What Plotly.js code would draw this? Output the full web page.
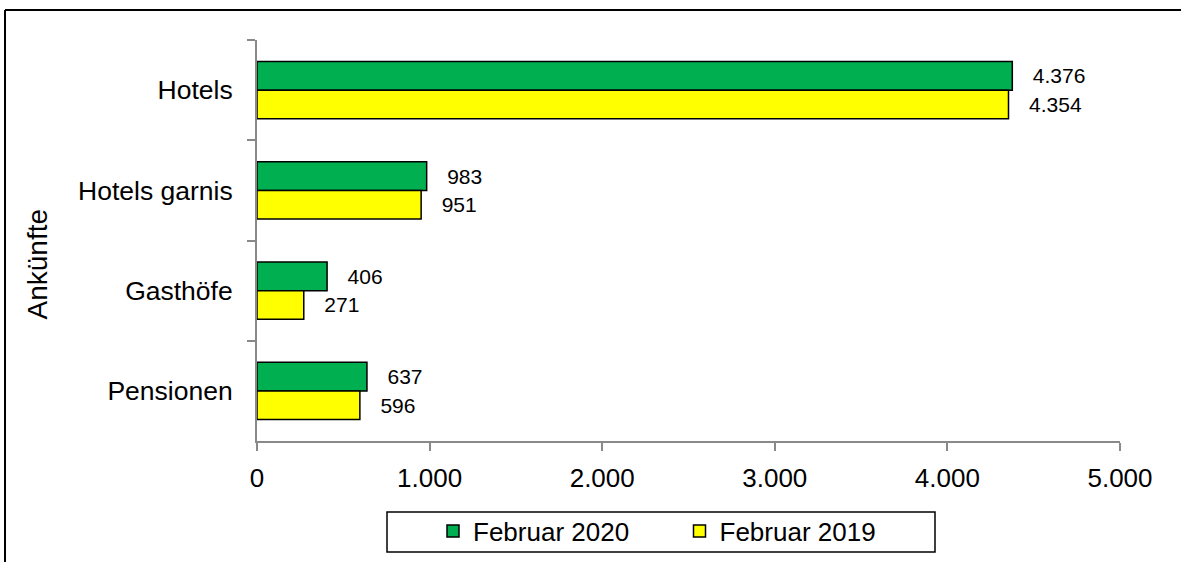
<!DOCTYPE html>
<html>
<head>
<meta charset="utf-8">
<script src="https://cdn.plot.ly/plotly-3.0.1.min.js"></script>
<style>
  html, body { margin: 0; padding: 0; background: #ffffff; }
  #chart { width: 1181px; height: 562px; }
</style>
</head>
<body>
<div id="chart"></div>
<script>
// Data
const categories = ['Hotels', 'Hotels garnis', 'Gasthöfe', 'Pensionen'];
const seriesNames = ['Februar 2020', 'Februar 2019'];
const feb2020 = [4376, 983, 406, 637];
const feb2019 = [4354, 951, 271, 596];
const xTickVals = [0, 1000, 2000, 3000, 4000, 5000];
const yAxisTitle = 'Ankünfte';

const FONT = 'Liberation Sans, Arial, sans-serif';
const W = 1181, H = 562;
const L = 257, R = 1120, T = 40, B = 441;
const pw = R - L, ph = B - T;
const px = v => (v - L) / pw;
const py = v => (B - v) / ph;

function barTrace(name, values, color) {
  return {
    type: 'bar',
    orientation: 'h',
    name: name,
    y: categories,
    x: values,
    marker: { color: color, line: { color: '#000000', width: 1.5 } },
    texttemplate: '\u00a0\u00a0\u00a0%{x:,.0f}',
    textposition: 'outside',
    constraintext: 'none',
    cliponaxis: false,
    textfont: { family: FONT, size: 21, color: '#000000' },
    hoverinfo: 'skip'
  };
}

const data = [
  barTrace(seriesNames[0], feb2020, '#00B050'),
  barTrace(seriesNames[1], feb2019, '#FFFF00')
];

const layout = {
  width: W, height: H,
  margin: { l: L, r: W - R, t: T, b: H - B, pad: 0, autoexpand: false },
  paper_bgcolor: '#ffffff',
  plot_bgcolor: '#ffffff',
  separators: ',.',
  barmode: 'group',
  bargap: 0.43,
  bargroupgap: 0,
  font: { family: FONT, color: '#000000' },
  showlegend: true,
  legend: {
    orientation: 'h',
    xref: 'container', yref: 'container',
    x: 433 / W, xanchor: 'left',
    y: 1 - 531 / H, yanchor: 'middle',
    font: { family: FONT, size: 26, color: '#000000' },
    bgcolor: 'rgba(0,0,0,0)',
    borderwidth: 0,
    entrywidth: 201.5,
    entrywidthmode: 'pixels'
  },
  xaxis: {
    range: [0, 5000],
    tickvals: xTickVals,
    tickformat: ',.0f',
    showgrid: false,
    zeroline: false,
    showline: true,
    linecolor: '#898989',
    linewidth: 2,
    ticks: 'outside',
    ticklen: 8,
    tickwidth: 2,
    tickcolor: '#898989',
    ticklabelstandoff: 5,
    tickfont: { family: FONT, size: 26, color: '#000000' },
    fixedrange: true
  },
  yaxis: {
    type: 'category',
    categoryorder: 'array',
    categoryarray: categories,
    autorange: 'reversed',
    showgrid: false,
    zeroline: false,
    showline: true,
    linecolor: '#898989',
    linewidth: 2,
    ticks: 'outside',
    tickson: 'boundaries',
    ticklen: 8,
    tickwidth: 2,
    tickcolor: '#898989',
    ticklabelstandoff: 17,
    tickfont: { family: FONT, size: 26.5, color: '#000000' },
    fixedrange: true
  },
  annotations: [{
    text: yAxisTitle,
    xref: 'paper', yref: 'paper',
    x: px(37), y: py(264.5),
    xanchor: 'center', yanchor: 'middle',
    textangle: -90,
    showarrow: false,
    font: { family: FONT, size: 28, color: '#000000' }
  }],
  shapes: [
    { type: 'rect', xref: 'paper', yref: 'paper',
      x0: px(387), x1: px(935), y0: py(552), y1: py(512),
      line: { color: '#000000', width: 1.5 }, fillcolor: 'rgba(0,0,0,0)' },
    { type: 'line', xref: 'paper', yref: 'paper',
      x0: px(5), x1: px(1300), y0: py(10), y1: py(10),
      line: { color: '#000000', width: 2 } },
    { type: 'line', xref: 'paper', yref: 'paper',
      x0: px(5), x1: px(5), y0: py(10), y1: py(700),
      line: { color: '#000000', width: 2 } }
  ]
};

Plotly.newPlot('chart', data, layout, { displayModeBar: false, staticPlot: true });
</script>
</body>
</html>
